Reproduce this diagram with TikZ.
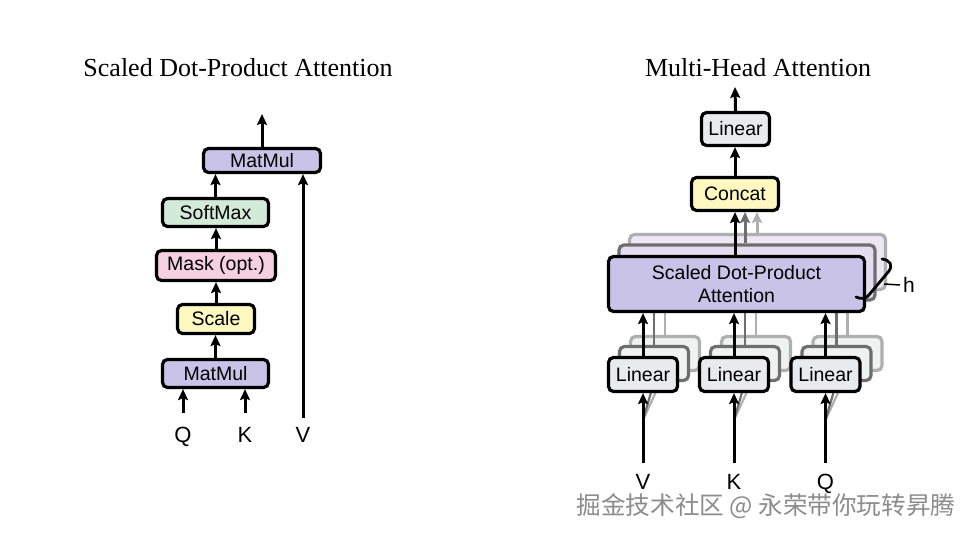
\documentclass[tikz,border=0pt]{standalone}
\usepackage{fontspec}
\setmainfont{Liberation Serif}
\setsansfont{Liberation Sans}
\newfontfamily\cjk{Noto Sans CJK SC}
\usetikzlibrary{arrows.meta}
\definecolor{cpurple}{RGB}{201,195,231}
\definecolor{cpurpleL}{RGB}{226,222,240}
\definecolor{cgreen}{RGB}{210,234,215}
\definecolor{cpink}{RGB}{245,208,222}
\definecolor{cyellow}{RGB}{252,248,192}
\definecolor{cgray}{RGB}{232,235,235}
\definecolor{cgrayL}{RGB}{240,242,242}
\definecolor{midgray}{RGB}{110,110,110}
\definecolor{lightgray}{RGB}{175,175,175}
\tikzset{
  box/.style={draw=black, line width=3.2pt, rounded corners=5pt, inner sep=0pt,
    font=\sffamily\fontsize{19.5}{23}\selectfont, align=center},
  arr/.style={line width=3pt, -{Stealth[length=11pt,width=10pt,inset=2pt]}},
  lbl/.style={font=\sffamily\fontsize{22}{26}\selectfont, inner sep=0pt, anchor=base},
  ttl/.style={font=\rmfamily\fontsize{26}{30}\selectfont, inner sep=0pt},
}
\begin{document}
\begin{tikzpicture}[x=1pt,y=-1pt]
\useasboundingbox (0,0) rectangle (973,537);
\fill[white] (0,0) rectangle (973,537);

% ---------- Left: Scaled Dot-Product Attention ----------
\node[ttl] (t1) at (238,68) {Scaled Dot-Product Attention};
\node[box, fill=cpurple, minimum width=117pt, minimum height=24pt] (mm2) at (262,160.5) {MatMul};
\node[box, fill=cgreen, minimum width=106pt, minimum height=28pt] (sm) at (215.5,212.5) {SoftMax};
\node[box, fill=cpink, minimum width=119pt, minimum height=30pt] (mask) at (216,265.5) {Mask (opt.)};
\node[box, fill=cyellow, minimum width=77pt, minimum height=29pt] (scale) at (216,319) {Scale};
\node[box, fill=cpurple, minimum width=106pt, minimum height=28pt] (mm1) at (215.5,373.5) {MatMul};

\coordinate (out1) at (262,114);
\coordinate (qa) at (183,413);
\coordinate (ka) at (245,413);
\coordinate (va) at (303,418);
\node[lbl] (q1) at (183,442) {Q};
\node[lbl] (k1) at (245,442) {K};
\node[lbl] (v1) at (303,442) {V};

\draw[arr] (mm2.north) -- (out1);
\draw[arr] (sm.north) -- (sm.north |- mm2.south);
\draw[arr] (mask.north) -- (mask.north |- sm.south);
\draw[arr] (scale.north) -- (scale.north |- mask.south);
\draw[arr] (mm1.north) -- (mm1.north |- scale.south);
\draw[arr] (qa) -- (qa |- mm1.south);
\draw[arr] (ka) -- (ka |- mm1.south);
\draw[arr] (va) -- (va |- mm2.south);

% ---------- Right: Multi-Head Attention ----------
\node[ttl] (t2) at (758,68) {Multi-Head Attention};

% back copies of SDPA
\node[box, draw=lightgray, fill=cpurpleL!70, minimum width=256pt, minimum height=55pt] (sdpaC) at (757.5,262) {};
\node[box, draw=midgray, fill=cpurpleL, minimum width=256pt, minimum height=55pt] (sdpaB) at (747,272.5) {};

% back copies of Linear boxes
\foreach \cx/\nm in {643/a,734/b,825.5/c}{
  \coordinate (in\nm) at (\cx,420);
  \node[box, draw=lightgray, fill=cgrayL, minimum width=69pt, minimum height=34pt] (l\nm C) at (\cx+22,353.5) {};
  \draw[lightgray, line width=2.6pt] (l\nm C.north) -- (l\nm C.north |- sdpaB.south);
  \draw[lightgray, line width=2.2pt] (in\nm) -- (l\nm C.south);
  \node[box, draw=midgray, fill=cgrayL, minimum width=69pt, minimum height=34pt] (l\nm B) at (\cx+11,363.5) {};
  \draw[midgray, line width=2.6pt] (l\nm B.north) -- (l\nm B.north |- sdpaB.south);
  \draw[midgray, line width=2.2pt] (in\nm) -- (l\nm B.south);
}

% arrows of back SDPA copies into Concat
\node[box, fill=cyellow, minimum width=87pt, minimum height=33pt] (concat) at (735,194) {Concat};
\draw[arr, lightgray] (757,234) -- (757,212);
\draw[arr, midgray] (sdpaB.north -| 745,0) -- (745,212);

% front SDPA
\node[box, fill=cpurple, minimum width=256pt, minimum height=55pt] (sdpa) at (736.5,284) {Scaled Dot-Product\\Attention};
\node[box, fill=cgray, minimum width=68pt, minimum height=33pt] (lin4) at (735.5,129) {Linear};
\coordinate (out2) at (735,87);
\draw[arr] (lin4.north) -- (out2);
\draw[arr] (concat.north) -- (concat.north |- lin4.south);
\draw[arr] (sdpa.north -| concat.south) -- (concat.south);

% front Linear boxes
\node[box, fill=cgray, minimum width=69pt, minimum height=34pt] (la) at (643,374.5) {Linear};
\node[box, fill=cgray, minimum width=69pt, minimum height=34pt] (lb) at (734,374.5) {Linear};
\node[box, fill=cgray, minimum width=69pt, minimum height=34pt] (lc) at (825.5,374.5) {Linear};
\draw[arr] (la.north) -- (la.north |- sdpa.south);
\draw[arr] (lb.north) -- (lb.north |- sdpa.south);
\draw[arr] (lc.north) -- (lc.north |- sdpa.south);

\coordinate (va2) at (643,463);
\coordinate (ka2) at (734,463);
\coordinate (qa2) at (825.5,463);
\draw[arr] (va2) -- (la.south);
\draw[arr] (ka2) -- (lb.south);
\draw[arr] (qa2) -- (lc.south);
\node[lbl] (v2) at (643,489) {V};
\node[lbl] (k2) at (734,489) {K};
\node[lbl] (q2) at (825.5,489) {Q};

% h brace
\draw[line width=2.8pt, line cap=round, line join=round]
  (882,259) .. controls (890,260) and (893,265) .. (889,271) -- (868,296)
  .. controls (865,299) and (860,299) .. (856,297);
\coordinate (hb) at (884,284);
\node[font=\sffamily\fontsize{21}{24}\selectfont, inner sep=0pt] (h) at (909,285) {h};
\draw[line width=1.5pt] (hb) -- ([xshift=-3pt]h.west);

% watermark
\node[font=\cjk\fontsize{24.6}{28}\selectfont, text=white, inner sep=0pt] (wms) at (767,507) {掘金技术社区 @ 永荣带你玩转昇腾};
\node[font=\cjk\fontsize{24.6}{28}\selectfont, text=black!45, inner sep=0pt] (wm) at (766,506) {掘金技术社区 @ 永荣带你玩转昇腾};
\end{tikzpicture}
\end{document}
